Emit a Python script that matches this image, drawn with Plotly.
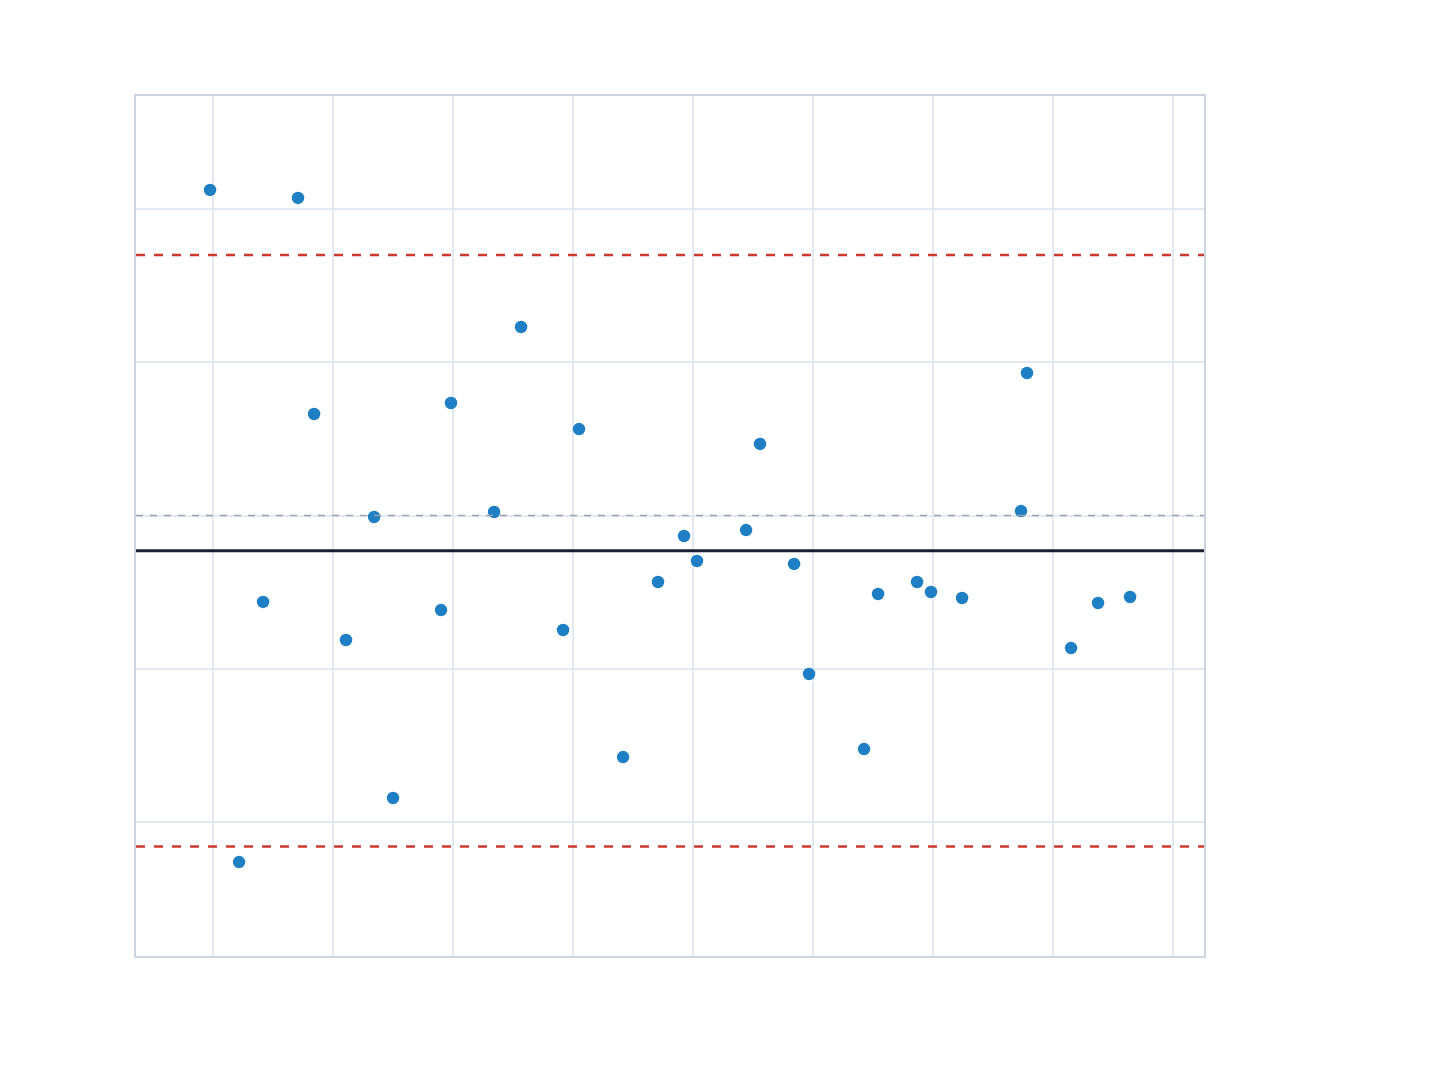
"""
Bland-Altman style agreement plot: differences against means, with bias and limits.
"""

import numpy as np
import plotly.graph_objects as go

# mean of the two measurements (x) and their difference (y)
pair_mean = [19.75, 22.17, 24.17, 27.08, 28.42, 31.08, 33.42, 35.0,
             39.0, 39.83, 43.42, 45.67, 49.17, 50.5, 54.17, 57.08,
             59.25, 60.33, 64.42, 65.58, 68.42, 69.67, 74.25, 75.42,
             78.67, 79.83, 82.42, 87.33, 87.83, 91.5, 93.75, 96.42]
pair_diff = [2.124, -2.261, -0.564, 2.072, 0.662, -0.812, -0.010, -1.843,
             -0.617, 0.734, 0.023, 1.230, -0.747, 0.564, -1.576, -0.434,
             -0.134, -0.297, -0.095, 0.467, -0.316, -1.034, -1.524, -0.512,
             -0.434, -0.499, -0.538, 0.029, 0.930, -0.865, -0.571, -0.532]

diffs = np.array(pair_diff)
bias = diffs.mean()
sd = diffs.std(ddof=1)
upper_loa = bias + 1.96 * sd
lower_loa = bias - 1.96 * sd

fig = go.Figure()

fig.add_trace(go.Scatter(
    x=pair_mean,
    y=pair_diff,
    mode='markers',
    marker=dict(color='#1f7fc4', size=12.5),
    showlegend=False,
))

# zero reference
fig.add_hline(y=0, line=dict(color='#9ba3b4', width=1.5, dash='7px,7px'))
# bias
fig.add_hline(y=bias, line=dict(color='#1a2232', width=3))
# limits of agreement
for lim in (upper_loa, lower_loa):
    fig.add_hline(y=lim, line=dict(color='#cc3a2f', width=2.5, dash='9px,9px'))

axis_style = dict(
    showticklabels=False,
    showgrid=True,
    gridcolor='#e3e9f2',
    gridwidth=1.5,
    zeroline=False,
    showline=True,
    linecolor='#cbd4df',
    linewidth=1.5,
    mirror=True,
    ticks='',
)

fig.update_xaxes(range=[13.58, 102.58], dtick=10, tick0=0, **axis_style)
fig.update_yaxes(range=[-2.874, 2.737], dtick=1, tick0=0, **axis_style)

fig.update_layout(
    width=1440,
    height=1080,
    margin=dict(l=128, r=244, t=88, b=132),
    plot_bgcolor='white',
    paper_bgcolor='white',
    showlegend=False,
)

fig.write_html("out.html")
